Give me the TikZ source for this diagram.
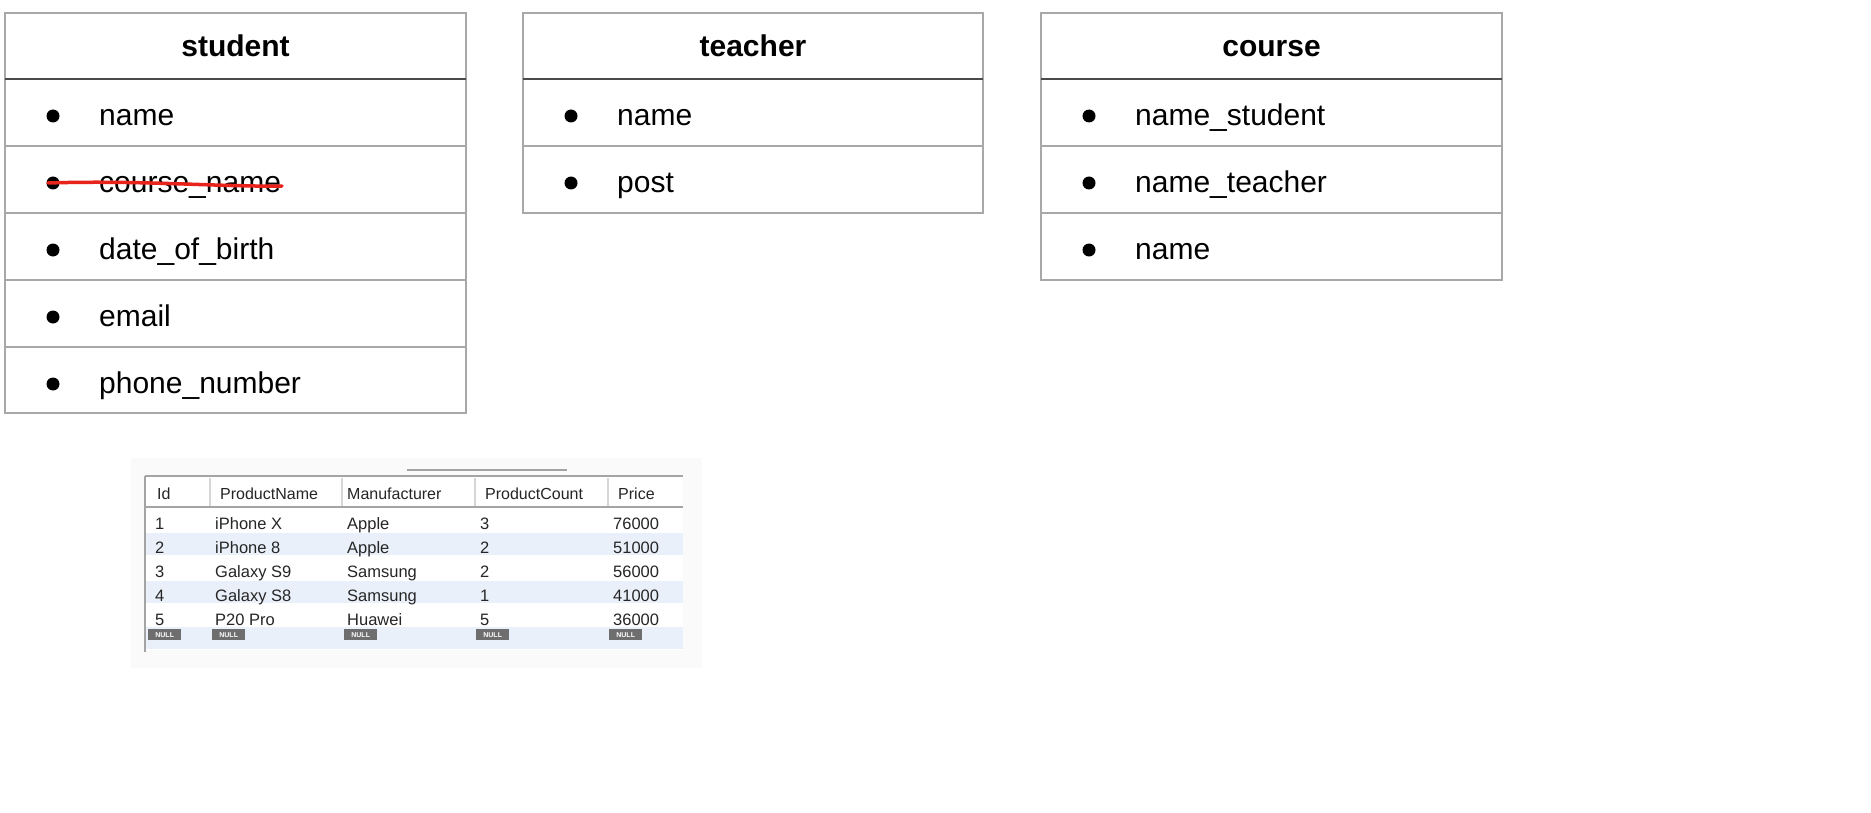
\documentclass[tikz,border=0pt]{standalone}
\usepackage{fontspec}
\setmainfont{Liberation Sans}
\definecolor{boxgray}{HTML}{A8A8A8}
\definecolor{hdrgray}{HTML}{4A4A4A}
\definecolor{strikered}{HTML}{E8231B}
\definecolor{tblline}{HTML}{A4A4A4}
\definecolor{tblsep}{HTML}{D6D6D6}
\definecolor{band}{HTML}{EAF0FA}
\definecolor{nullgray}{HTML}{6E6E6E}
\definecolor{tbltext}{HTML}{262626}
\definecolor{bgshade}{HTML}{FAFAFA}
\begin{document}
\begin{tikzpicture}[x=1pt,y=-1pt,
  ebox/.style={draw=boxgray,line width=2pt,fill=white},
  hline/.style={draw=hdrgray,line width=2pt},
  rline/.style={draw=boxgray,line width=2pt},
  title/.style={anchor=base,inner sep=0pt,font=\fontsize{30}{36}\selectfont\bfseries},
  item/.style={anchor=base west,inner sep=0pt,font=\fontsize{30}{36}\selectfont},
  dot/.style={circle,fill=black,minimum size=13pt,inner sep=0pt},
  th/.style={anchor=base west,inner sep=0pt,text=tbltext,font=\fontsize{16}{19}\selectfont},
  td/.style={anchor=base west,inner sep=0pt,text=tbltext,font=\fontsize{16.5}{19}\selectfont},
  nullbadge/.style={fill=nullgray,text=white,inner sep=0pt,minimum width=33pt,minimum height=11pt,anchor=north west,font=\fontsize{7}{8}\selectfont\bfseries}
]
\useasboundingbox (0,0) rectangle (1871,813);
\fill[white] (0,0) rectangle (1871,813);

% ---------- student ----------
\draw[ebox] (5,13) rectangle (466,413);
\draw[hline] (5,79) -- (466,79);
\foreach \yy in {146,213,280,347} \draw[rline] (5,\yy) -- (466,\yy);
\node[title] (stitle) at (235.5,57) {student};
\node[dot] (sb1) at (53,116) {};
\node[item] (s1) at (99,125.5) {name};
\node[dot] (sb2) at (53,183) {};
\node[item] (s2) at (99,192.5) {course\_name};
\node[dot] (sb3) at (53,250) {};
\node[item] (s3) at (99,259.5) {date\_of\_birth};
\node[dot] (sb4) at (53,317) {};
\node[item] (s4) at (99,326.5) {email};
\node[dot] (sb5) at (53,384) {};
\node[item] (s5) at (99,393.5) {phone\_number};
\draw[strikered,line width=3.5pt,line cap=round] (48,183) .. controls (140,180) and (220,187) .. (282,186);

% ---------- teacher ----------
\draw[ebox] (523,13) rectangle (983,213);
\draw[hline] (523,79) -- (983,79);
\draw[rline] (523,146) -- (983,146);
\node[title] (ttitle) at (753,57) {teacher};
\node[dot] (tb1) at (571,116) {};
\node[item] (t1) at (617,125.5) {name};
\node[dot] (tb2) at (571,183) {};
\node[item] (t2) at (617,192.5) {post};

% ---------- course ----------
\draw[ebox] (1041,13) rectangle (1502,280);
\draw[hline] (1041,79) -- (1502,79);
\foreach \yy in {146,213} \draw[rline] (1041,\yy) -- (1502,\yy);
\node[title] (ctitle) at (1271.5,57) {course};
\node[dot] (cb1) at (1089,116) {};
\node[item] (c1) at (1135,125.5) {name\_student};
\node[dot] (cb2) at (1089,183) {};
\node[item] (c2) at (1135,192.5) {name\_teacher};
\node[dot] (cb3) at (1089,250) {};
\node[item] (c3) at (1135,259.5) {name};

% ---------- product table (screenshot) ----------
\fill[bgshade] (131,458) rectangle (702,668);
\fill[white] (145,476) rectangle (683,650);
\fill[band] (145,533) rectangle (683,555);
\fill[band] (145,581) rectangle (683,603);
\fill[band] (145,627) rectangle (683,649);
\draw[tblline,line width=1.5pt] (407,470) -- (567,470);
\draw[tblline,line width=2pt] (145,476) -- (683,476);
\draw[tblline,line width=2.5pt] (145,507) -- (683,507);
\draw[tblline,line width=2pt] (145,476) -- (145,652);
\foreach \xx in {210,342,475,608} \draw[tblsep,line width=1.5pt] (\xx,478) -- (\xx,506);

\node[th] (hId) at (157,499) {Id};
\node[th] (hName) at (220,499) {ProductName};
\node[th] (hMan) at (347,499) {Manufacturer};
\node[th] (hCount) at (485,499) {ProductCount};
\node[th] (hPrice) at (618,499) {Price};

\node[td] (r1a) at (155,529) {1};
\node[td] (r1b) at (215,529) {iPhone X};
\node[td] (r1c) at (347,529) {Apple};
\node[td] (r1d) at (480,529) {3};
\node[td] (r1e) at (613,529) {76000};

\node[td] (r2a) at (155,553) {2};
\node[td] (r2b) at (215,553) {iPhone 8};
\node[td] (r2c) at (347,553) {Apple};
\node[td] (r2d) at (480,553) {2};
\node[td] (r2e) at (613,553) {51000};

\node[td] (r3a) at (155,577) {3};
\node[td] (r3b) at (215,577) {Galaxy S9};
\node[td] (r3c) at (347,577) {Samsung};
\node[td] (r3d) at (480,577) {2};
\node[td] (r3e) at (613,577) {56000};

\node[td] (r4a) at (155,601) {4};
\node[td] (r4b) at (215,601) {Galaxy S8};
\node[td] (r4c) at (347,601) {Samsung};
\node[td] (r4d) at (480,601) {1};
\node[td] (r4e) at (613,601) {41000};

\node[td] (r5a) at (155,625) {5};
\node[td] (r5b) at (215,625) {P20 Pro};
\node[td] (r5c) at (347,625) {Huawei};
\node[td] (r5d) at (480,625) {5};
\node[td] (r5e) at (613,625) {36000};

\node[nullbadge] (n1) at (148,629) {NULL};
\node[nullbadge] (n2) at (212,629) {NULL};
\node[nullbadge] (n3) at (344,629) {NULL};
\node[nullbadge] (n4) at (476,629) {NULL};
\node[nullbadge] (n5) at (609,629) {NULL};
\end{tikzpicture}
\end{document}
